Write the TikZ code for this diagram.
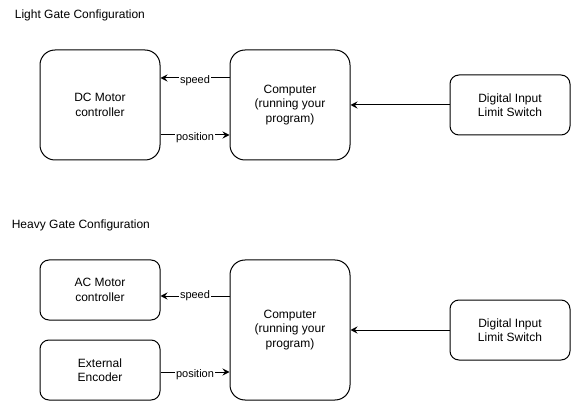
\documentclass[tikz,border=0pt]{standalone}
\usepackage{fontspec}
\setmainfont{Liberation Sans}
\usetikzlibrary{arrows.meta}

\begin{document}
\begin{tikzpicture}[x=1pt,y=-1pt,line width=1pt,
	box/.style={draw,rounded corners=15pt,minimum width=120pt,minimum height=110pt,
		align=center,font=\fontsize{12}{14.5}\selectfont},
	smallbox/.style={box,rounded corners=9pt,minimum height=60pt},
	title/.style={anchor=west,font=\fontsize{12}{14}\selectfont},
	lbl/.style={fill=white,inner sep=1pt,font=\fontsize{11}{13}\selectfont},
	arrow/.style={-{Stealth[length=7pt,width=7pt,inset=2.5pt]}}]
\useasboundingbox (0,0) rectangle (571,401);
% light gate
\node[title] (light) at (11,15) {Light Gate Configuration};
\node[box] (dc) at (100,105) {DC Motor\\controller};
\node[box] (comp) at (290,105) {Computer\\(running your\\program)};
\node[smallbox] (limit) at (510,105) {Digital Input\\Limit Switch};
\draw[arrow] ([yshift=27pt]comp.west) -- node[lbl,yshift=-3pt]{speed} ([yshift=27pt]dc.east);
\draw[arrow] ([yshift=-30pt]dc.east) -- node[lbl,yshift=-3pt]{position} ([yshift=-30pt]comp.west);
\draw[arrow] (limit) -- (comp);
% heavy gate
\node[title] (heavy) at (8,225) {Heavy Gate Configuration};
\node[smallbox] (ac) at (100,290) {AC Motor\\controller};
\node[smallbox] (enc) at (100,370) {External\\Encoder};
\node[box,minimum height=140pt] (comp2) at (290,330) {Computer\\(running your\\program)};
\node[smallbox] (limit2) at (510,330) {Digital Input\\Limit Switch};
\coordinate (sp) at ([yshift=34pt]comp2.west);
\coordinate (ps) at ([yshift=-42pt]comp2.west);
\draw[arrow] (sp) -- node[lbl]{speed} (sp -| ac.east);
\draw[arrow] (ps -| enc.east) -- node[lbl,yshift=-3pt]{position} (ps);
\draw[arrow] (limit2) -- (comp2);
\end{tikzpicture}
\end{document}
